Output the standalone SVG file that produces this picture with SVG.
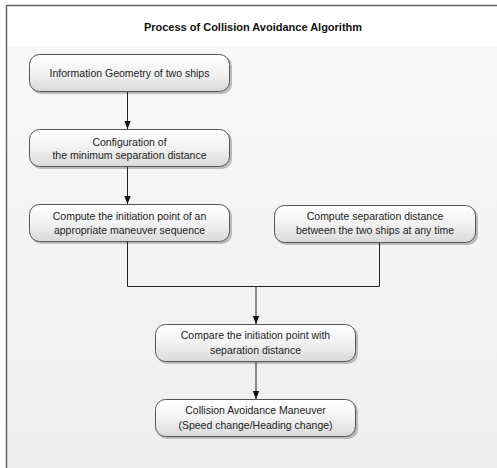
<svg xmlns="http://www.w3.org/2000/svg" width="497" height="468" viewBox="0 0 497 468">
<defs>
<linearGradient id="bg" x1="0" y1="0" x2="0" y2="1">
<stop offset="0" stop-color="#f9f9f9"/>
<stop offset="1" stop-color="#eeeeee"/>
</linearGradient>
<linearGradient id="box" x1="0" y1="0" x2="0" y2="1">
<stop offset="0" stop-color="#ffffff"/>
<stop offset="0.5" stop-color="#f2f2f2"/>
<stop offset="1" stop-color="#d9d9d9"/>
</linearGradient>
<marker id="arr" viewBox="0 0 10 10" refX="10" refY="5" markerWidth="8" markerHeight="8" markerUnits="userSpaceOnUse" orient="auto">
<path d="M0,1 L10,5 L0,9 Z" fill="#111"/>
</marker>
<marker id="arrw" viewBox="0 0 10 10" refX="10" refY="5" markerWidth="9" markerHeight="9" markerUnits="userSpaceOnUse" orient="auto">
<path d="M0,2 L10,5 L0,8 Z" fill="#111"/>
</marker>
</defs>
<style>
.node rect.b{fill:url(#box);stroke:#555;stroke-width:1}
.node rect.s{fill:#bbb;stroke:none}
text{font-family:"Liberation Sans",Arial,sans-serif;font-size:10.5px;fill:#222;text-anchor:middle}
.title{font-weight:bold;font-size:11px;fill:#111}
.conn path{fill:none;stroke:#222;stroke-width:1}
</style>
<rect x="0" y="0" width="497" height="468" fill="#ffffff"/>
<rect x="7" y="6" width="495" height="470" fill="url(#bg)"/>
<rect x="7" y="6" width="495" height="41" fill="#ffffff"/>
<path d="M6.5,468 V5.5 H497" fill="none" stroke="#666" stroke-width="1.5"/>
<text class="title" x="253" y="31">Process of Collision Avoidance Algorithm</text>

<g id="n1" class="node">
<rect class="s" x="31" y="56" width="201" height="38" rx="10"/>
<rect class="b" x="29.5" y="54.5" width="200" height="37" rx="10"/>
<text x="129.5" y="77">Information Geometry of two ships</text>
</g>
<g id="n2" class="node">
<rect class="s" x="31" y="131" width="201" height="38" rx="10"/>
<rect class="b" x="29.5" y="129.5" width="200" height="37" rx="10"/>
<text x="129.5" y="145.5">Configuration of</text>
<text x="129.5" y="159">the minimum separation distance</text>
</g>
<g id="n3" class="node">
<rect class="s" x="31" y="206" width="201" height="38" rx="10"/>
<rect class="b" x="29.5" y="204.5" width="200" height="37" rx="10"/>
<text x="129.5" y="219.5">Compute the initiation point of an</text>
<text x="129.5" y="233.5">appropriate maneuver sequence</text>
</g>
<g id="n4" class="node">
<rect class="s" x="276" y="207" width="202" height="38" rx="10"/>
<rect class="b" x="274.5" y="205.5" width="201" height="37" rx="10"/>
<text x="375" y="220">Compute separation distance</text>
<text x="375" y="234">between the two ships at any time</text>
</g>
<g id="n5" class="node">
<rect class="s" x="157" y="326" width="201" height="38" rx="10"/>
<rect class="b" x="155.5" y="324.5" width="200" height="37" rx="10"/>
<text x="255.5" y="339">Compare the initiation point with</text>
<text x="255.5" y="353.5">separation distance</text>
</g>
<g id="n6" class="node">
<rect class="s" x="157" y="401" width="201" height="38" rx="10"/>
<rect class="b" x="155.5" y="399.5" width="200" height="37" rx="10"/>
<text x="255.5" y="414">Collision Avoidance Maneuver</text>
<text x="255.5" y="429">(Speed change/Heading change)</text>
</g>

<g id="connectors" class="conn">
<path d="M127.5,92 V129" marker-end="url(#arr)"/>
<path d="M127.5,167 V204" marker-end="url(#arr)"/>
<path d="M127.5,242 V286.5 H379.5 V243"/>
<path d="M256,286.5 V324" marker-end="url(#arr)"/>
<path d="M256,362 V399" marker-end="url(#arr)"/>
</g>
</svg>
